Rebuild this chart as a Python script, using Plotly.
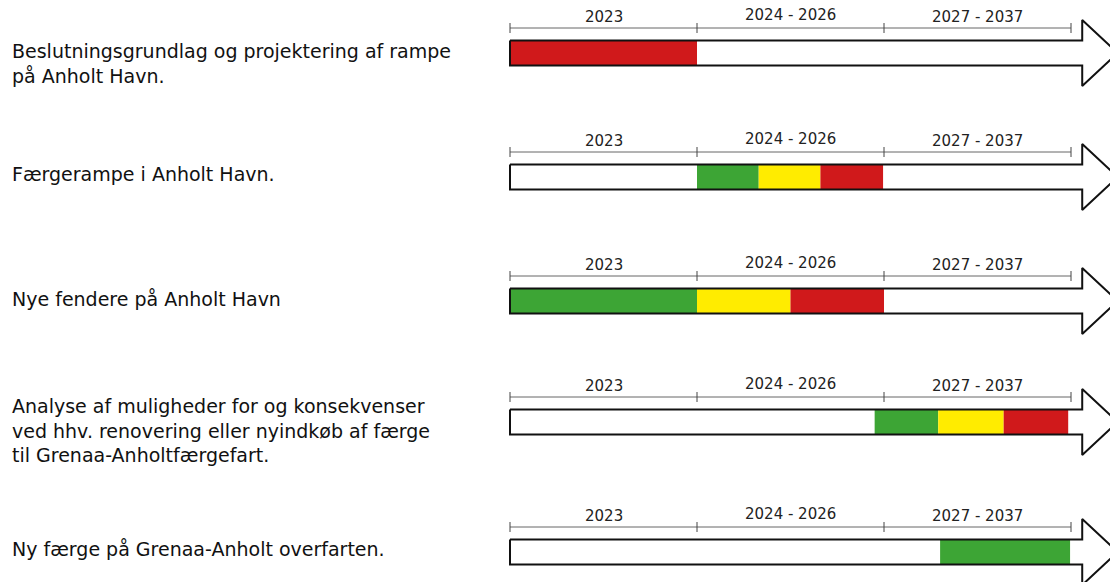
import plotly.graph_objects as go

# ---------------- data ----------------
tasks = [
    "Beslutningsgrundlag og projektering af rampe<br>på Anholt Havn.",
    "Færgerampe i Anholt Havn.",
    "Nye fendere på Anholt Havn",
    "Analyse af muligheder for og konsekvenser<br>ved hhv. renovering eller nyindkøb af færge<br>til Grenaa-Anholtfærgefart.",
    "Ny færge på Grenaa-Anholt overfarten.",
]
periods = ["2023", "2024 - 2026", "2027 - 2037"]
# segments per task: (start, end, colour-name) on a timeline where each period spans one unit
seg_task = [0, 1, 1, 1, 2, 2, 2, 3, 3, 3, 4]
seg_start = [0.0, 1.0, 1.33, 1.66, 0.0, 1.0, 1.5, 1.95, 2.29, 2.64, 2.30]
seg_end = [1.0, 1.33, 1.66, 1.995, 1.0, 1.5, 2.0, 2.29, 2.64, 2.985, 2.995]
seg_status = ["red", "green", "yellow", "red", "green", "yellow", "red", "green", "yellow", "red", "green"]

# ---------------- layout constants ----------------
W, H = 1110, 582
X0_PX, UNIT_PX = 510, 187          # pixel of timeline start, pixels per period
row_center = [53, 177, 301, 422, 552]
label_first_line = [50, 173, 298, 405, 548]
colors = {"red": "#D0191B", "green": "#3DA535", "yellow": "#FFEC00"}
BAR_H = 25
HEAD_HALF = 33
BODY_END = 3.06
TIP = 3.25

fig = go.Figure()

# coloured segments
for s in sorted(set(seg_status), key=["green", "yellow", "red"].index):
    idx = [i for i, st in enumerate(seg_status) if st == s]
    fig.add_trace(go.Bar(
        orientation="h",
        y=[row_center[seg_task[i]] for i in idx],
        x=[seg_end[i] - seg_start[i] for i in idx],
        base=[seg_start[i] for i in idx],
        width=BAR_H,
        marker=dict(color=colors[s], line=dict(width=0)),
        showlegend=False, hoverinfo="skip",
    ))

# arrows, rulers, ticks
n_per = len(periods)
for r, yc in enumerate(row_center):
    ax = [0, BODY_END, BODY_END, TIP, BODY_END, BODY_END, 0, 0]
    ay = [yc - BAR_H / 2, yc - BAR_H / 2, yc - HEAD_HALF, yc, yc + HEAD_HALF,
          yc + BAR_H / 2, yc + BAR_H / 2, yc - BAR_H / 2]
    fig.add_trace(go.Scatter(x=ax, y=ay, mode="lines",
                             line=dict(color="#111111", width=2),
                             showlegend=False, hoverinfo="skip"))
    ry = yc - 25
    fig.add_trace(go.Scatter(x=[0, n_per], y=[ry, ry], mode="lines",
                             line=dict(color="#666666", width=1),
                             showlegend=False, hoverinfo="skip"))
    tx, ty = [], []
    for k in range(n_per + 1):
        tx += [k, k, None]
        ty += [ry - 5, ry + 5, None]
    fig.add_trace(go.Scatter(x=tx, y=ty, mode="lines",
                             line=dict(color="#444444", width=1),
                             showlegend=False, hoverinfo="skip"))
    for k, p in enumerate(periods):
        fig.add_annotation(x=k + 0.5, y=ry - 11 - (2 if k == 1 else 0), text=p,
                           showarrow=False, xref="x", yref="y",
                           font=dict(family="DejaVu Sans", size=15, color="#222222"))
    fig.add_annotation(x=10 / W, xref="paper", y=label_first_line[r] - 12, yref="y",
                       xanchor="left", yanchor="top", align="left",
                       text=tasks[r], showarrow=False,
                       font=dict(family="DejaVu Sans", size=19, color="#111111"))

fig.update_layout(
    width=W, height=H,
    margin=dict(l=0, r=0, t=0, b=0),
    paper_bgcolor="white", plot_bgcolor="white",
    barmode="overlay",
    xaxis=dict(range=[-X0_PX / UNIT_PX, (W - X0_PX) / UNIT_PX], visible=False, fixedrange=True),
    yaxis=dict(range=[H, 0], visible=False, fixedrange=True),
)

fig.write_html("out.html", config={"displayModeBar": False},
               post_script="document.body.style.margin='0';document.body.style.overflow='hidden';")
